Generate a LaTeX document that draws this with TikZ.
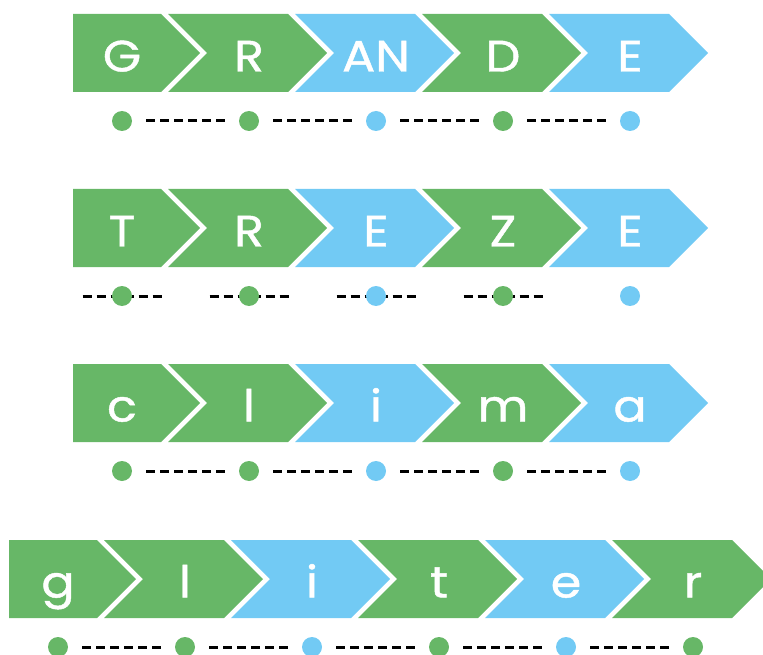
\documentclass[tikz,border=0pt]{standalone}
\usepackage{fontspec}
\setmainfont{Poppins}
\newfontfamily\letterfont{Poppins}[FakeBold=1.0,FakeStretch=1.12]
\definecolor{cgreen}{HTML}{67B767}
\definecolor{cblue}{HTML}{72CAF4}
\tikzset{
  letter/.style={text=white, font=\letterfont\fontsize{44}{44}\selectfont, anchor=base, inner sep=0pt},
  dotnode/.style={circle, minimum size=20pt, inner sep=0pt},
  link/.style={line width=3pt, dash pattern=on 9pt off 5pt, black},
  gaplink/.style={link, shorten <=14pt, shorten >=14pt},
}
\begin{document}
\begin{tikzpicture}[x=1pt,y=-1pt]
\useasboundingbox (0,0) rectangle (763,655);
\clip (0,0) rectangle (763,655);
\foreach \T/\L/\mode/\n/\items in {
  14/73/0/5/{G/cgreen,R/cgreen,AN/cblue,D/cgreen,E/cblue},
  189/73/1/5/{T/cgreen,R/cgreen,E/cblue,Z/cgreen,E/cblue},
  364/73/0/5/{c/cgreen,l/cgreen,i/cblue,m/cgreen,a/cblue},
  540/9/0/6/{g/cgreen,l/cgreen,i/cblue,t/cgreen,e/cblue,r/cgreen}}{
  \foreach \txt/\col [count=\i] in \items {
    \pgfmathsetmacro\xo{\L-32+127*(\i-1)}
    \pgfmathtruncatemacro\prev{\i-1}
    \ifnum\i=1
      \fill[\col] (\L,\T) -- (\xo+120,\T) -- (\xo+159,\T+39) -- (\xo+120,\T+78) -- (\L,\T+78) -- cycle;
    \else
      \fill[\col] (\xo,\T) -- (\xo+120,\T) -- (\xo+159,\T+39) -- (\xo+120,\T+78) -- (\xo,\T+78) -- (\xo+39,\T+39) -- cycle;
    \fi
    \node[letter] (t\T-\i) at (\xo+81,\T+57.5) {\txt};
    \ifnum\mode=1
      \ifnum\i<\n
        \coordinate (l\T-\i) at (\xo+41.5,\T+107);
        \coordinate (r\T-\i) at (\xo+120.5,\T+107);
        \draw[link] (l\T-\i) -- (r\T-\i);
      \fi
    \fi
    \node[dotnode, fill=\col] (d\T-\i) at (\xo+81,\T+107) {};
    \ifnum\mode=0
      \ifnum\i>1
        \draw[gaplink] (d\T-\prev) -- (d\T-\i);
      \fi
    \fi
  }
}
\end{tikzpicture}
\end{document}
